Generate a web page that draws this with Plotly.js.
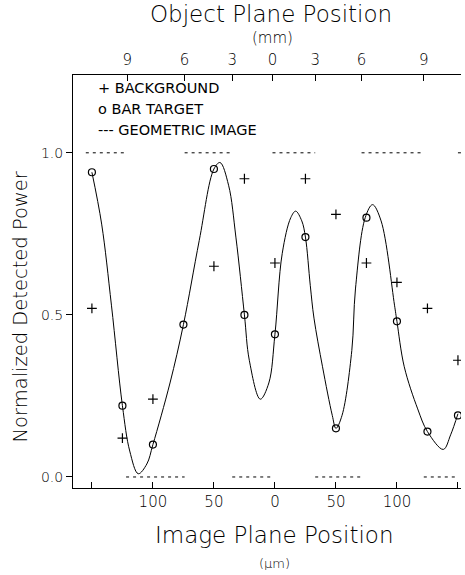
<!DOCTYPE html>
<html>
<head>
<meta charset="utf-8">
<script src="https://cdn.plot.ly/plotly-3.0.1.min.js"></script>
<style>html,body{margin:0;padding:0;background:#fff;}#chart{width:465px;height:575px;}</style>
</head>
<body>
<div id="chart"></div>
<script>
// Image plane position (µm) of each measurement
const barTargetX = [-150, -125, -100, -75, -50, -25, 0, 25, 50, 75, 100, 125, 150];
const barTargetY = [0.94, 0.22, 0.10, 0.47, 0.95, 0.50, 0.44, 0.74, 0.15, 0.80, 0.48, 0.14, 0.19];

const backgroundX = [-150, -125, -100, -50, -25, 0, 25, 50, 75, 100, 125, 150];
const backgroundY = [0.52, 0.12, 0.24, 0.65, 0.92, 0.66, 0.92, 0.81, 0.66, 0.60, 0.52, 0.36];

// Smooth fitted curve
const curveX = [-150, -142, -134, -125, -119, -112, -105, -100, -86, -75, -62, -50, -45, -38, -32, -25, -21, -12, -5, 0, 6, 13, 17, 22, 25, 29, 32, 39, 47, 50, 55, 63, 66, 74, 80, 87, 98, 100, 106, 117, 125, 138, 144, 150];
const curveY = [0.94, 0.78, 0.53, 0.22, 0.08, 0.01, 0.04, 0.10, 0.29, 0.47, 0.73, 0.95, 0.97, 0.90, 0.74, 0.50, 0.36, 0.24, 0.29, 0.44, 0.69, 0.80, 0.82, 0.79, 0.74, 0.59, 0.49, 0.34, 0.19, 0.15, 0.19, 0.39, 0.58, 0.80, 0.84, 0.79, 0.53, 0.48, 0.34, 0.21, 0.14, 0.085, 0.13, 0.195];

// Geometric image: bar edges (µm) and levels
const geoHighX = [-155, -122, null, -74, -35, null, -2, 33, null, 71, 122, null, 150, 153];
const geoHighY = [1, 1, null, 1, 1, null, 1, 1, null, 1, 1, null, 1, 1];
const geoLowX = [-122, -74, null, -35, -2, null, 33, 71, null, 122, 148];
const geoLowY = [0, 0, null, 0, 0, null, 0, 0, null, 0, 0];

// Tick labels
const imageTickVals = [-150, -100, -50, 0, 50, 100, 150];
const imageTickText = ['', '100', '50', '0', '50', '100', ''];
const objectTickVals = [-121, -74, -35, -2, 33, 71, 122];
const objectTickText = ['9', '6', '3', '0', '3', '6', '9'];
const powerTickVals = [0, 0.5, 1.0];
const powerTickText = ['0.0', '0.5', '1.0'];

const FONT = 'DejaVu Sans, sans-serif';
const INK = '#000';
const W = 200;

const traces = [
  {x: geoHighX, y: geoHighY, mode: 'lines', line: {color: INK, width: 1, dash: '3px,4px'}, name: 'GEOMETRIC IMAGE', showlegend: false, hoverinfo: 'skip'},
  {x: geoLowX, y: geoLowY, mode: 'lines', line: {color: INK, width: 1, dash: '3px,4px'}, name: 'GEOMETRIC IMAGE', showlegend: false, hoverinfo: 'skip'},
  {x: curveX, y: curveY, mode: 'lines', line: {color: INK, width: 1, shape: 'spline', smoothing: 1}, name: 'fit', showlegend: false},
  {x: backgroundX, y: backgroundY, mode: 'markers', marker: {symbol: 'cross-thin', size: 7, line: {color: INK, width: 1.2}}, name: 'BACKGROUND', showlegend: false},
  {x: barTargetX, y: barTargetY, mode: 'markers', marker: {symbol: 'circle-open', size: 7, color: INK, line: {color: INK, width: 1.2}}, name: 'BAR TARGET', showlegend: false},
  {x: [0], y: [-1], xaxis: 'x2', mode: 'markers', marker: {opacity: 0}, showlegend: false, hoverinfo: 'skip'}
];

const xr = [-165.5, 152.5];
const layout = {
  width: 465, height: 575,
  margin: {l: 73, r: 4, t: 75, b: 87},
  paper_bgcolor: '#fff', plot_bgcolor: '#fff',
  font: {family: FONT, color: INK, size: 14, weight: W},
  showlegend: false,
  xaxis: {
    range: xr, showgrid: false, zeroline: false, showline: true, linecolor: INK, linewidth: 1,
    ticks: 'inside', ticklen: 6, tickcolor: INK, tickvals: imageTickVals, ticktext: imageTickText,
    tickfont: {size: 15, family: FONT, weight: W}
  },
  xaxis2: {
    range: xr, overlaying: 'x', side: 'top', anchor: 'y', showgrid: false, zeroline: false,
    showline: true, linecolor: INK, linewidth: 1, ticks: 'inside', ticklen: 6, tickcolor: INK,
    ticklabelstandoff: 3,
    tickvals: objectTickVals, ticktext: objectTickText, tickfont: {size: 15, family: FONT, weight: W}
  },
  yaxis: {
    range: [-0.034, 1.24], showgrid: false, zeroline: false, showline: true, linecolor: INK, linewidth: 1,
    ticks: 'outside', ticklen: 6, tickcolor: INK, tickvals: powerTickVals, ticktext: powerTickText,
    tickfont: {size: 14, family: FONT, weight: W}
  },
  annotations: [
    {text: 'Object Plane Position', xref: 'paper', yref: 'paper', x: 0.51, y: 1, yshift: 61, showarrow: false, xanchor: 'center', yanchor: 'middle', font: {size: 23, family: FONT, weight: W}},
    {text: '(mm)', xref: 'paper', yref: 'paper', x: 0.515, y: 1, yshift: 37, showarrow: false, font: {size: 15, family: FONT, weight: W}, xanchor: 'center', yanchor: 'middle'},
    {text: 'Image Plane Position', xref: 'paper', yref: 'paper', x: 0.52, y: 0, yshift: -47, showarrow: false, xanchor: 'center', yanchor: 'middle', font: {size: 23, family: FONT, weight: W}},
    {text: '(µm)', xref: 'paper', yref: 'paper', x: 0.52, y: 0, yshift: -75, showarrow: false, font: {size: 13, family: FONT, weight: W}, xanchor: 'center', yanchor: 'middle'},
    {text: 'Normalized Detected Power', xref: 'paper', yref: 'paper', x: 0, xshift: -53, y: 0.5, yshift: -26, textangle: -90, showarrow: false, xanchor: 'center', yanchor: 'middle', font: {size: 19.5, family: FONT, weight: W}},
    {text: '+ BACKGROUND', xref: 'paper', yref: 'paper', x: 0.06, y: 1, yshift: -13, showarrow: false, xanchor: 'left', yanchor: 'middle', font: {size: 14.5, family: FONT, weight: 400}},
    {text: 'o BAR TARGET', xref: 'paper', yref: 'paper', x: 0.06, y: 1, yshift: -34, showarrow: false, xanchor: 'left', yanchor: 'middle', font: {size: 14.5, family: FONT, weight: 400}},
    {text: '--- GEOMETRIC IMAGE', xref: 'paper', yref: 'paper', x: 0.06, y: 1, yshift: -55, showarrow: false, xanchor: 'left', yanchor: 'middle', font: {size: 14.5, family: FONT, weight: 400}}
  ]
};

Plotly.newPlot('chart', traces, layout, {displayModeBar: false, staticPlot: true});
</script>
</body>
</html>
